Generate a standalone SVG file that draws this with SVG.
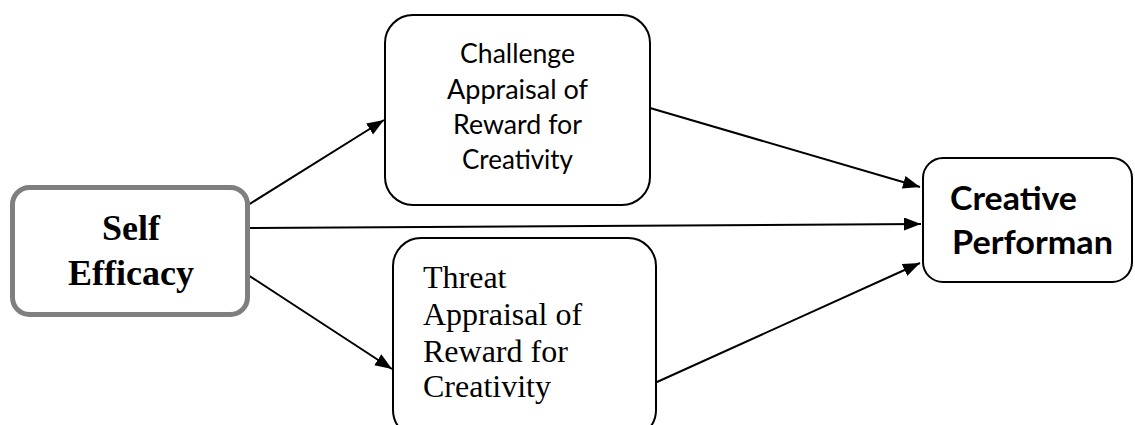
<svg xmlns="http://www.w3.org/2000/svg" width="1135" height="425" viewBox="0 0 1135 425">
<style>
.box{fill:#fff;stroke:#000;stroke-width:2}
.sans{font-family:Lato,"Open Sans","Liberation Sans",sans-serif;fill:#000}
.serif{font-family:"Liberation Serif","Times New Roman",serif;fill:#000}
.edge{stroke:#000;stroke-width:2;fill:none;marker-end:url(#arr)}
</style>
<defs>
<marker id="arr" markerUnits="userSpaceOnUse" markerWidth="18" markerHeight="14" refX="17" refY="6.5" orient="auto">
<path d="M0,0 L17,6.5 L0,13 z" fill="#000"/>
</marker>
</defs>
<rect width="1135" height="425" fill="#fff"/>
<g id="connectors">
<line class="edge" x1="248" y1="205" x2="384" y2="120"/>
<line class="edge" x1="249" y1="228" x2="921" y2="224"/>
<line class="edge" x1="248" y1="275" x2="392" y2="369"/>
<line class="edge" x1="650" y1="108" x2="920" y2="187"/>
<line class="edge" x1="657" y1="382" x2="920" y2="263"/>
</g>
<g id="self-efficacy">
<rect x="12.5" y="187.5" width="235" height="127" rx="17" fill="#fff" stroke="#7f7f7f" stroke-width="5"/>
<text class="serif" font-size="36" font-weight="bold" text-anchor="middle" x="131" y="240">Self</text>
<text class="serif" font-size="36" font-weight="bold" text-anchor="middle" x="131" y="285">Efficacy</text>
</g>
<g id="challenge">
<rect class="box" x="385" y="15" width="265" height="190" rx="28"/>
<g class="sans" font-size="27">
<text x="460" y="63" textLength="115" lengthAdjust="spacingAndGlyphs">Challenge</text>
<text x="447" y="99" textLength="141" lengthAdjust="spacingAndGlyphs">Appraisal of</text>
<text x="453" y="134" textLength="129" lengthAdjust="spacingAndGlyphs">Reward for</text>
<text x="462" y="169" textLength="111" lengthAdjust="spacingAndGlyphs">Creativity</text>
</g>
</g>
<g id="threat">
<rect class="box" x="393" y="238" width="263" height="200" rx="28"/>
<g class="serif" font-size="32">
<text x="423" y="288">Threat</text>
<text x="423" y="325">Appraisal of</text>
<text x="423" y="362">Reward for</text>
<text x="423" y="397">Creativity</text>
</g>
</g>
<g id="creative-performance">
<rect class="box" x="923" y="158" width="209" height="124" rx="20"/>
<g class="sans" font-size="32" font-weight="bold">
<text x="950" y="210" textLength="127" lengthAdjust="spacingAndGlyphs">Creative</text>
<text x="952" y="254" textLength="161" lengthAdjust="spacingAndGlyphs">Performan</text>
</g>
</g>
</svg>
